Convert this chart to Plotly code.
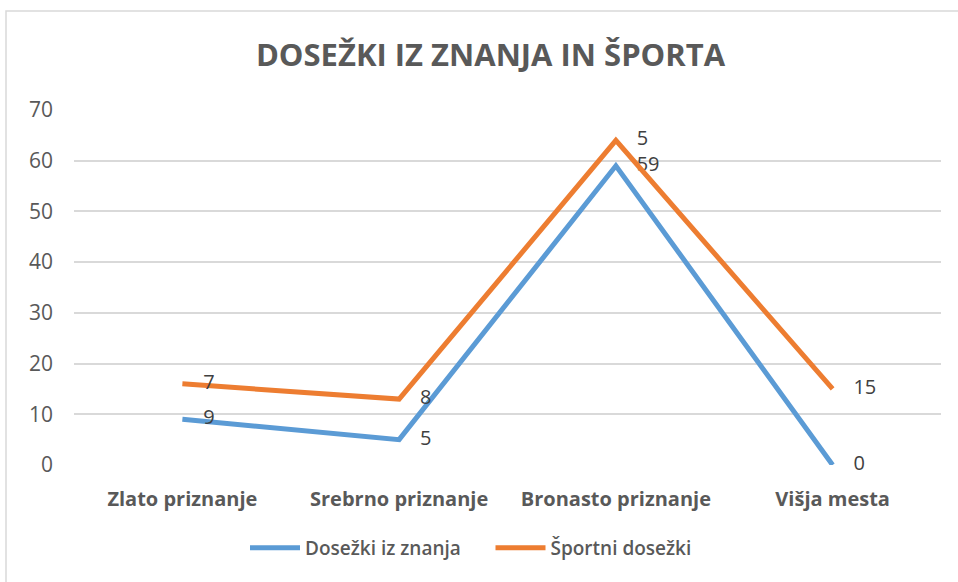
import plotly.graph_objects as go

categories = ["Zlato priznanje", "Srebrno priznanje", "Bronasto priznanje", "Višja mesta"]
znanje = [9, 5, 59, 0]
sport = [7, 8, 5, 15]
y_ticks = [0, 10, 20, 30, 40, 50, 60, 70]
series_names = ["Dosežki iz znanja", "Športni dosežki"]

GRAY = "#595959"
FONT = "Open Sans"
PAD = "\u00a0" * 4
LEG_GAP = "\u00a0" * 5

fig = go.Figure()
fig.add_trace(go.Scatter(
    x=categories, y=znanje, name=series_names[0] + LEG_GAP,
    mode="lines+text", stackgroup="s", fill="none", cliponaxis=False,
    line=dict(color="#5B9BD5", width=5),
    text=[str(v) for v in znanje], texttemplate=PAD + "%{text}", textposition="middle right",
    textfont=dict(family=FONT, size=20, color="#404040"),
))
fig.add_trace(go.Scatter(
    x=categories, y=sport, name=series_names[1],
    mode="lines+text", stackgroup="s", fill="none", cliponaxis=False,
    line=dict(color="#ED7D31", width=5),
    text=[str(v) for v in sport], texttemplate=PAD + "%{text}", textposition="middle right",
    textfont=dict(family=FONT, size=20, color="#404040"),
))

W, H = 958, 582
ml, mr, mt, mb = 74, 17, 110, 117
pw, ph = W - ml - mr, H - mt - mb

fig.add_shape(type="rect", xref="paper", yref="paper",
              x0=(6 - ml) / pw, x1=(966 - ml) / pw,
              y0=(H - mb - 590) / ph, y1=(H - mb - 11) / ph,
              line=dict(color="#D9D9D9", width=1.5), fillcolor="rgba(0,0,0,0)", layer="below")

fig.update_layout(
    width=W, height=H,
    margin=dict(l=ml, r=mr, t=mt, b=mb),
    paper_bgcolor="white", plot_bgcolor="white",
    title=dict(text="DOSEŽKI IZ ZNANJA IN ŠPORTA", x=0.512, xanchor="center",
               y=1 - 55 / H, yanchor="middle",
               font=dict(family=FONT, size=31, color=GRAY, weight=700)),
    showlegend=True,
    legend=dict(orientation="h", x=(471 - ml) / pw, xanchor="center", y=-(548 - (H - mb)) / ph,
                yanchor="middle", font=dict(family=FONT, size=19, color=GRAY, weight=600),
                itemwidth=50, traceorder="normal"),
    xaxis=dict(type="category", range=[-0.5, 3.5], showgrid=False, showline=False,
               ticks="", tickfont=dict(family=FONT, size=20, color=GRAY, weight=700),
               ticklabelstandoff=20, zeroline=False, fixedrange=True),
    yaxis=dict(range=[0, 70], tickvals=y_ticks, showgrid=True, gridcolor="#D9D9D9",
               gridwidth=1.5, zeroline=False, showline=False, ticks="",
               tickfont=dict(family=FONT, size=21, color=GRAY), ticklabelstandoff=20,
               fixedrange=True),
)

fig.write_html("out.html", config={"displayModeBar": False},
               post_script="document.body.style.margin='0';")
